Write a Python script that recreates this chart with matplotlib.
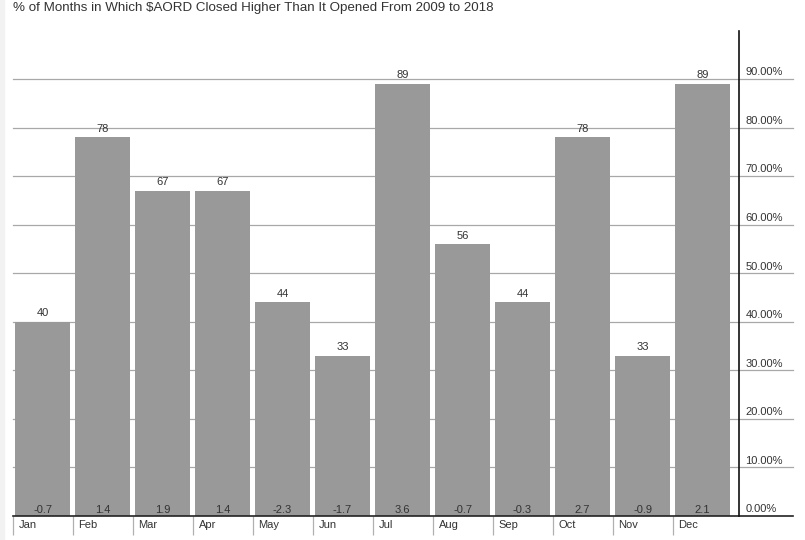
import matplotlib
matplotlib.use("Agg")
import matplotlib.pyplot as plt
import matplotlib.transforms as mtransforms

plt.rcParams['font.family'] = ['Liberation Sans', 'DejaVu Sans']

title = "% of Months in Which $AORD Closed Higher Than It Opened From 2009 to 2018"
months = ["Jan", "Feb", "Mar", "Apr", "May", "Jun", "Jul", "Aug", "Sep", "Oct", "Nov", "Dec"]
pct_up = [40, 78, 67, 67, 44, 33, 89, 56, 44, 78, 33, 89]
avg_change = [-0.7, 1.4, 1.9, 1.4, -2.3, -1.7, 3.6, -0.7, -0.3, 2.7, -0.9, 2.1]
y_ticks = [0, 10, 20, 30, 40, 50, 60, 70, 80, 90]

W, H = 805, 540
fig = plt.figure(figsize=(W / 100, H / 100), dpi=100)
ax_left, ax_right, ax_bottom, ax_top = 13, 739, 516, 30.5
ax = fig.add_axes([ax_left / W, (H - ax_bottom) / H, (ax_right - ax_left) / W, (ax_bottom - ax_top) / H])

n = len(months)
ax.set_xlim(0, n + 0.1)
ax.set_ylim(0, 100)

grid_ext = (793 - ax_left) / (ax_right - ax_left)
for v in y_ticks[1:]:
    ax.axhline(v, xmin=0, xmax=grid_ext, color="#a8a8a8", lw=0.9, clip_on=False, zorder=1)
ax.axhline(0, xmin=0, xmax=grid_ext, color="#222222", lw=1.2, clip_on=False, zorder=4)

xs = [i + 0.035 for i in range(n)]
bar_w = 0.915
bars = ax.bar(xs, pct_up, width=bar_w, align="edge", color="#999999", zorder=2)

for b, p, a in zip(bars, pct_up, avg_change):
    cx = b.get_x() + b.get_width() / 2
    ax.annotate(f"{p}", (cx, p), xytext=(0, 2.5), textcoords="offset points",
                ha="center", va="bottom", fontsize=8, color="#333333", zorder=5)
    ax.annotate(f"{a}", (cx, 0), xytext=(0, 0.8), textcoords="offset points",
                ha="center", va="bottom", fontsize=8, color="#333333", zorder=5)

for s in ["top", "left", "bottom"]:
    ax.spines[s].set_visible(False)
ax.spines["right"].set_color("#111111")
ax.spines["right"].set_linewidth(1.2)
ax.spines["right"].set_zorder(5)

ax.set_yticks([])
ax.set_xticks(list(range(n)))
ax.set_xticklabels([])
ax.tick_params(axis="x", length=14, width=0.9, color="#b0b0b0", direction="out")

trans_x = mtransforms.blended_transform_factory(ax.transData, ax.transAxes)
for i, m in enumerate(months):
    ax.annotate(m, (i, 0), xycoords=trans_x, xytext=(4, -3), textcoords="offset points",
                ha="left", va="top", fontsize=8, color="#333333")

trans_y = mtransforms.blended_transform_factory(ax.transAxes, ax.transData)
for v in y_ticks:
    ax.annotate(f"{v:.2f}%", (1, v), xycoords=trans_y, xytext=(4.5, 1.2), textcoords="offset points",
                ha="left", va="bottom", fontsize=8, color="#333333")

fig.text(13 / W, 1 - 8.5 / H, title, ha="left", va="center", fontsize=9.6, color="#333333")

fig.patches.append(plt.Rectangle((0, 0), 4 / W, 1, transform=fig.transFigure,
                                 color="#f2f2f2", zorder=0))

fig.savefig("out.png", dpi=100)
